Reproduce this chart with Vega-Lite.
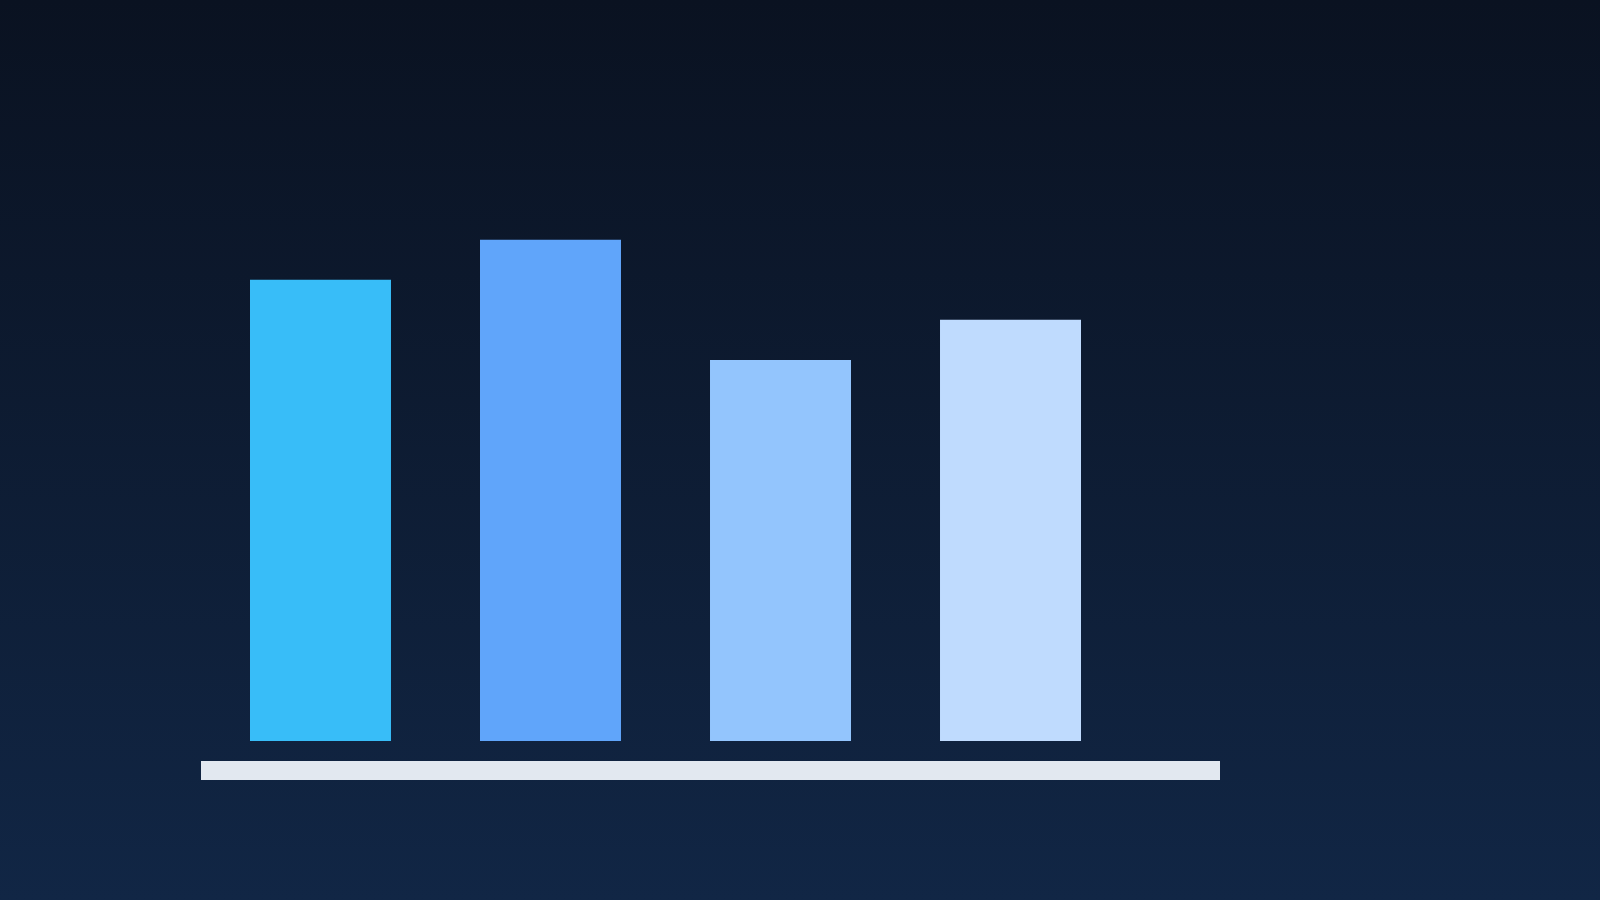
{
  "$schema": "https://vega.github.io/schema/vega-lite/v6.json",
  "width": 1600,
  "height": 900,
  "padding": 0,
  "autosize": {"type": "none"},
  "background": "#0b1628",
  "view": {
    "stroke": null,
    "fill": {
      "gradient": "linear",
      "x1": 0, "y1": 0, "x2": 0, "y2": 1,
      "stops": [
        {"offset": 0, "color": "#0a1221"},
        {"offset": 1, "color": "#112645"}
      ]
    }
  },
  "datasets": {
    "bars": [
      {"category": "A", "value": 23, "color": "#38bdf8"},
      {"category": "B", "value": 25, "color": "#60a5fa"},
      {"category": "C", "value": 19, "color": "#93c5fd"},
      {"category": "D", "value": 21, "color": "#bfdbfe"}
    ],
    "base": [
      {"start": 0, "end": 1, "top": -1, "bottom": -1.95}
    ]
  },
  "layer": [
    {
      "data": {"name": "base"},
      "mark": {"type": "rect", "color": "#e2e8f0"},
      "encoding": {
        "x": {"field": "start", "type": "quantitative", "scale": {"domain": [0, 1], "range": [201, 1220], "nice": false, "zero": false}, "axis": null},
        "x2": {"field": "end"},
        "y": {"field": "top", "type": "quantitative", "scale": {"domain": [-7.93, 36.95], "nice": false, "zero": false}, "axis": null},
        "y2": {"field": "bottom"}
      }
    },
    {
      "data": {"name": "bars"},
      "mark": {"type": "bar"},
      "encoding": {
        "x": {"field": "category", "type": "nominal", "scale": {"range": [250, 1081], "paddingInner": 0.387, "paddingOuter": 0}, "axis": null},
        "y": {"field": "value", "type": "quantitative", "axis": null},
        "color": {"field": "color", "type": "nominal", "scale": null, "legend": null}
      }
    }
  ],
  "resolve": {"scale": {"x": "independent"}}
}
